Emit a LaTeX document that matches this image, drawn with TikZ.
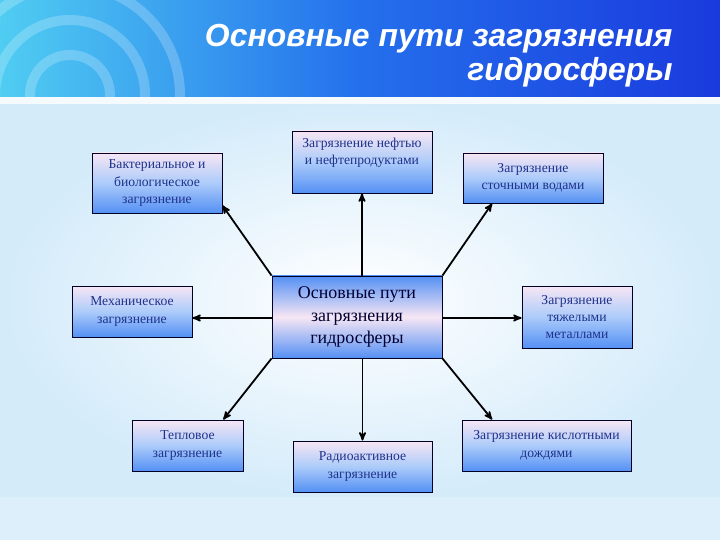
\documentclass[tikz,border=0pt]{standalone}
\usepackage{fontspec}
\setmainfont{Liberation Serif}
\newfontfamily\titlefont{Liberation Sans}
\usepackage{tikz}
\usetikzlibrary{positioning,arrows}
\usetikzlibrary{calc}
\definecolor{boxtop}{RGB}{247,230,244}
\definecolor{boxmid}{RGB}{172,203,250}
\definecolor{boxbot}{RGB}{84,144,244}
\definecolor{boxtext}{RGB}{30,50,140}
\definecolor{bannerl}{RGB}{80,205,242}
\definecolor{bannerm}{RGB}{36,112,236}
\definecolor{bannerr}{RGB}{26,58,222}
\definecolor{bodybg}{RGB}{212,235,250}
\tikzset{
  putnode/.style = {align=center, inner sep=0pt, rectangle,
    draw=black!85!blue, line width=0.9bp},
  put_x/.style = {putnode, top color=boxtop, bottom color=boxbot,
    middle color=boxmid, text=boxtext,
    font=\fontsize{13.7}{17.5}\selectfont},% boite laterale
  put_c/.style = {putnode, top color=boxbot, bottom color=boxbot,
    middle color=boxtop, text=black!80!blue,
    font=\fontsize{18}{23}\selectfont},% boite centrale
  put_a/.style = {->, >=stealth', line width=1.8bp, black}
}

\begin{document}
\begin{tikzpicture}[x=1bp,y=-1bp]
\useasboundingbox (0,0) rectangle (720,540);
% fond
\fill[bodybg] (0,0) rectangle (720,540);
\shade[inner color=white, outer color=bodybg] (0,100) rectangle (720,500);
\fill[bodybg!80!white] (0,497) rectangle (720,540);
\shade[left color=bannerl, right color=bannerr, middle color=bannerm]
  (0,0) rectangle (720,97);
\begin{scope}
  \clip (0,0) rectangle (720,97);
  \foreach \r in {40,75,110}
    \draw[white, opacity=0.22, line width=10bp] (70,95) circle (\r);
\end{scope}
\fill[white!75!bodybg] (0,97) rectangle (720,104);
% titre
\node[anchor=base east, text=white,
  font=\titlefont\bfseries\itshape\fontsize{32}{35}\selectfont]
  (titre1) at (676,47) {Основные пути загрязнения};
\node[anchor=base east, text=white,
  font=\titlefont\bfseries\itshape\fontsize{32}{35}\selectfont]
  (titre2) at (676,81) {гидросферы};
% boites
\node[put_c, minimum width=170bp, minimum height=82bp] (centre) at (357,317)
  {Основные пути\\загрязнения\\гидросферы};
\node[put_x, minimum width=130bp, minimum height=60bp] (bact) at (157,183)
  {Бактериальное и\\биологическое\\загрязнение};
\node[put_x, minimum width=140bp, minimum height=62bp] (neft) at (362,162)
  {Загрязнение нефтью\\и нефтепродуктами\\[4bp]};
\node[put_x, minimum width=140bp, minimum height=50bp] (stok) at (533,178)
  {Загрязнение\\сточными водами};
\node[put_x, minimum width=120bp, minimum height=51bp] (meca) at (132,311.5)
  {Механическое\\загрязнение};
\node[put_x, minimum width=110bp, minimum height=62bp] (metal) at (577,317)
  {Загрязнение\\тяжелыми\\металлами};
\node[put_x, minimum width=111bp, minimum height=51bp] (teplo) at (187.5,445.5)
  {Тепловое\\загрязнение};
\node[put_x, minimum width=139bp, minimum height=51bp] (radio) at (362.5,466.5)
  {Радиоактивное\\загрязнение};
\node[put_x, minimum width=169bp, minimum height=51bp] (kisl) at (546.5,445.5)
  {Загрязнение кислотными\\дождями};
% fleches
\draw[put_a] (centre.north west) -- ([yshift=8bp]bact.south east);
\draw[put_a] (centre.north -| neft.south) -- (neft.south);
\draw[put_a] (centre.north east) -- ($(stok.south west)!0.21!(stok.south east)$);
\draw[put_a] (centre.west |- 0,318) -- (meca.east |- 0,318);
\draw[put_a] (centre.east |- 0,318) -- (metal.west |- 0,318);
\draw[put_a] (centre.south west) -- ($(teplo.north west)!0.82!(teplo.north east)$);
\draw[put_a] (centre.south -| radio.north) -- (radio.north);
\draw[put_a] (centre.south east) -- ($(kisl.north west)!0.18!(kisl.north east)$);
\end{tikzpicture}
\end{document}
